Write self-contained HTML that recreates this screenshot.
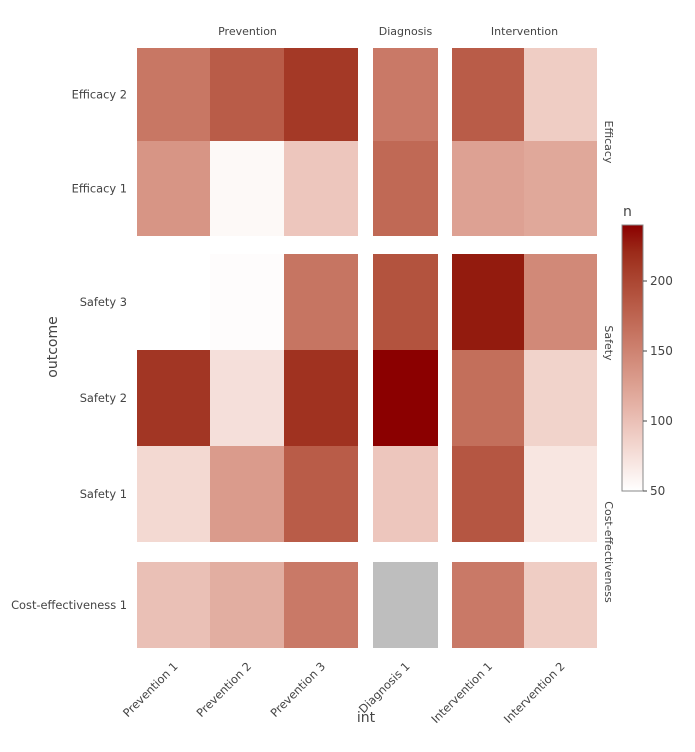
<!DOCTYPE html>
<html><head><meta charset="utf-8"><style>
body{margin:0;background:#fff;font-family:"DejaVu Sans","Liberation Sans",sans-serif}
svg text{font-family:"DejaVu Sans","Liberation Sans",sans-serif;fill:#444}
</style></head><body>
<svg id="c" width="695" height="748"></svg>
<script>
const cols=["Prevention 1","Prevention 2","Prevention 3","Diagnosis 1","Intervention 1","Intervention 2"];
const rows=["Efficacy 2","Efficacy 1","Safety 3","Safety 2","Safety 1","Cost-effectiveness 1"];
const valEfficacy2=[160,182,210,158,182,90];
const valEfficacy1=[135,55,95,172,125,120];
const valSafety3=[null,52,162,190,230,145];
const valSafety2=[212,75,215,240,167,85];
const valSafety1=[80,130,182,95,187,70];
const valCost1=[100,115,158,"NA",158,90];
const values=[valEfficacy2,valEfficacy1,valSafety3,valSafety2,valSafety1,valCost1];
const colorTicks=[50,100,150,200];
const colGroups=["Prevention","Diagnosis","Intervention"];
const rowGroups=["Efficacy","Safety","Cost-effectiveness"];

const NS="http://www.w3.org/2000/svg",svg=document.getElementById('c');
function el(t,a,txt){const e=document.createElementNS(NS,t);for(const k in a)e.setAttribute(k,a[k]);if(txt!=null)e.textContent=txt;svg.appendChild(e);return e;}
const colX=[[137,210],[210,284],[284,358],[373,438],[452,524],[524,597]];
const rowY=[[48,141],[141,236],[254,350],[350,446],[446,542],[562,648]];
const vmin=50,vmax=240;
function lab2rgb(L,a,b){let y=(L+16)/116,x=a/500+y,z=y-b/200;
 const f=t=>t**3>0.008856?t**3:(t-16/116)/7.787;
 x=0.95047*f(x);y=1*f(y);z=1.08883*f(z);
 let r=x*3.2406+y*-1.5372+z*-0.4986,g=x*-0.9689+y*1.8758+z*0.0415,bb=x*0.0557+y*-0.2040+z*1.0570;
 const gm=c=>{c=c>0.0031308?1.055*Math.pow(c,1/2.4)-0.055:12.92*c;return Math.round(Math.max(0,Math.min(1,c))*255);};
 return `rgb(${gm(r)},${gm(g)},${gm(bb)})`;}
function color(v){const t=Math.max(0,Math.min(1,(v-vmin)/(vmax-vmin)));
 return lab2rgb(100+(28.1-100)*t,51*t,41.3*t);}
values.forEach((row,ri)=>row.forEach((v,ci)=>{
 if(v===null)return;
 const [x0,x1]=colX[ci],[y0,y1]=rowY[ri];
 const r=el('rect',{x:x0,y:y0,width:x1-x0,height:y1-y0,fill:v==="NA"?"#bebebe":color(v)});
 
 
}));
rows.forEach((r,i)=>{const t=el('text',{x:127,y:(rowY[i][0]+rowY[i][1])/2+4,'text-anchor':'end','font-size':11.4},r);
 });
cols.forEach((c,i)=>{const cx=(colX[i][0]+colX[i][1])/2+5,cy=667;
 const t=el('text',{x:cx,y:cy,'text-anchor':'end','font-size':11.4,transform:`rotate(-45 ${cx} ${cy})`},c);
 });
const cg=[[137,358],[373,438],[452,597]];
colGroups.forEach((g,i)=>{const t=el('text',{x:(cg[i][0]+cg[i][1])/2,y:35,'text-anchor':'middle','font-size':11,fill:'#222'},g);
 });
const rgc=[142,343,552];
rowGroups.forEach((g,i)=>{const cy=rgc[i],cx=605;
 const t=el('text',{x:cx,y:cy,'text-anchor':'middle','font-size':11,fill:'#222',transform:`rotate(90 ${cx} ${cy})`},g);
 });
let t=el('text',{x:57,y:347,'text-anchor':'middle','font-size':14,fill:'#222',transform:'rotate(-90 57 347)'},'outcome');

t=el('text',{x:366,y:722,'text-anchor':'middle','font-size':14,fill:'#222'},'int');

const defs=el('defs',{});const lg=document.createElementNS(NS,'linearGradient');
lg.setAttribute('id','g');lg.setAttribute('x1',0);lg.setAttribute('y1',1);lg.setAttribute('x2',0);lg.setAttribute('y2',0);
for(let i=0;i<=10;i++){const s=document.createElementNS(NS,'stop');s.setAttribute('offset',i/10);s.setAttribute('stop-color',color(vmin+(vmax-vmin)*i/10));lg.appendChild(s);}
defs.appendChild(lg);
const cbTop=225,cbBot=491;
const cb=el('rect',{x:622,y:cbTop,width:21,height:cbBot-cbTop,fill:'url(#g)',stroke:'#888','stroke-width':1});

const cy=v=>cbBot-(v-vmin)/(vmax-vmin)*(cbBot-cbTop);
colorTicks.forEach(v=>{el('line',{x1:643,x2:647,y1:cy(v),y2:cy(v),stroke:'#444'});
 const tt=el('text',{x:650,y:cy(v)+4,'font-size':12},v);});
t=el('text',{x:623,y:216,'font-size':14,fill:'#222'},'n');
</script>
</body></html>
